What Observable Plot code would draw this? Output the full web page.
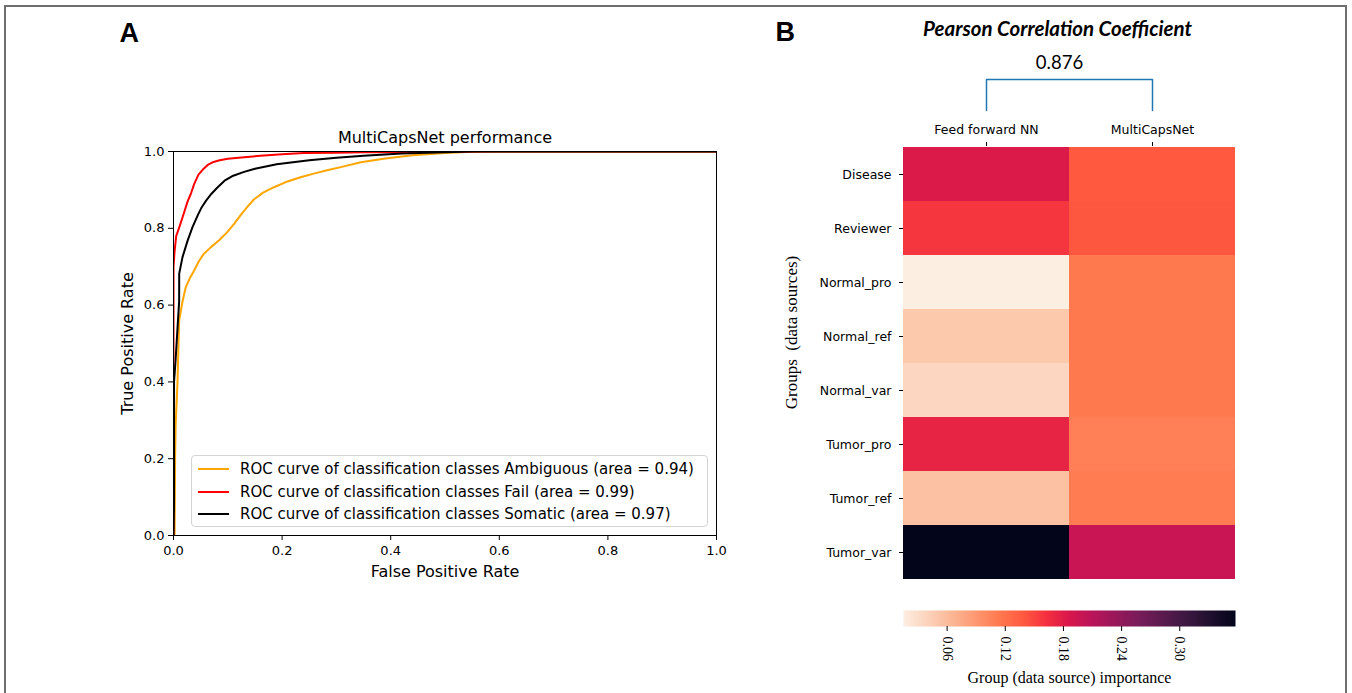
<!DOCTYPE html>
<html>
<head>
<meta charset="utf-8">
<script src="https://cdn.jsdelivr.net/npm/d3@7"></script>
<script src="https://cdn.jsdelivr.net/npm/@observablehq/plot@0.6"></script>
<style>
  body { margin: 0; background: #fff; }
  #root { position: relative; width: 1352px; height: 693px; overflow: hidden; background: #fff; }
  #border { position: absolute; left: 4px; top: 5px; width: 1343px; height: 720px; border: 2px solid #6e6e6e; box-sizing: border-box; }
  .panel { position: absolute; }
  .panel svg { overflow: visible; }
  #legend { position: absolute; left: 191px; top: 455px; width: 517px; height: 72px; box-sizing: border-box;
            border: 1px solid #d4d4d4; border-radius: 4px; background: rgba(255,255,255,0.85);
            font-family: "DejaVu Sans"; font-size: 15px; color: #000; }
  .lg-row { position: absolute; left: 0; height: 20px; display: flex; align-items: center; white-space: nowrap; }
  .lg-row svg { margin-left: 6px; margin-right: 11px; }
</style>
</head>
<body>
<div id="root">
  <div id="border"></div>
  <div class="panel" id="roc" style="left:0;top:0"></div>
  <div id="legend"></div>
  <div class="panel" id="heat" style="left:760px;top:0"></div>
  <div class="panel" id="dendro" style="left:760px;top:0"></div>
  <div class="panel" id="cbar" style="left:760px;top:590px"></div>
</div>
<script>
// ---------- Panel A: ROC data ----------
const classNames = ["Ambiguous", "Fail", "Somatic"];
const aucValues = [0.94, 0.99, 0.97];
const classColors = ["#ffa500", "#ff0000", "#000000"];
const rocTicks = [0, 0.2, 0.4, 0.6, 0.8, 1.0];

const ambiguousFpr = [0, 0.002, 0.003, 0.004, 0.0074, 0.0104, 0.0166, 0.0227, 0.03, 0.038, 0.047, 0.056, 0.069, 0.085, 0.099, 0.112, 0.124, 0.136, 0.148, 0.165, 0.185, 0.21, 0.234, 0.26, 0.283, 0.31, 0.345, 0.39, 0.44, 0.5, 0.56, 1.0];
const ambiguousTpr = [0, 0.0, 0.21, 0.29, 0.40, 0.56, 0.61, 0.647, 0.67, 0.69, 0.715, 0.734, 0.751, 0.77, 0.79, 0.812, 0.835, 0.856, 0.875, 0.893, 0.907, 0.922, 0.933, 0.943, 0.951, 0.96, 0.972, 0.982, 0.99, 0.996, 1.0, 1.0];

const failFpr = [0, 0, 0.002, 0.005, 0.01, 0.017, 0.026, 0.032, 0.038, 0.046, 0.054, 0.063, 0.072, 0.085, 0.1, 0.13, 0.16, 0.2, 0.24, 0.3, 0.35, 0.45, 0.6, 1.0];
const failTpr = [0, 0.70, 0.74, 0.78, 0.80, 0.83, 0.87, 0.89, 0.915, 0.94, 0.953, 0.965, 0.972, 0.977, 0.981, 0.985, 0.989, 0.993, 0.996, 0.997, 0.998, 0.999, 1.0, 1.0];

const somaticFpr = [0, 0.001, 0.001, 0.004, 0.0074, 0.0104, 0.0105, 0.0166, 0.026, 0.035, 0.045, 0.052, 0.06, 0.07, 0.08, 0.094, 0.11, 0.13, 0.15, 0.19, 0.25, 0.3, 0.35, 0.42, 0.5, 0.55, 1.0];
const somaticTpr = [0, 0.09, 0.40, 0.46, 0.54, 0.61, 0.682, 0.725, 0.768, 0.803, 0.835, 0.855, 0.872, 0.89, 0.905, 0.924, 0.937, 0.947, 0.955, 0.967, 0.977, 0.984, 0.989, 0.995, 0.998, 1.0, 1.0];

// ---------- Panel B: heatmap data ----------
const groups = ["Disease", "Reviewer", "Normal_pro", "Normal_ref", "Normal_var", "Tumor_pro", "Tumor_ref", "Tumor_var"];
const models = ["Feed forward NN", "MultiCapsNet"];
const ffnnImportance = [0.183, 0.159, 0.015, 0.049, 0.037, 0.173, 0.056, 0.3575];
const multiCapsImportance = [0.138, 0.14, 0.114, 0.114, 0.114, 0.109, 0.111, 0.198];
const colorbarTicks = [0.06, 0.12, 0.18, 0.24, 0.30];
const pearsonR = 0.876;
// reversed "rocket"-like palette as it appears in the figure
const paletteStops = [0, 0.143, 0.286, 0.36, 0.43, 0.5, 0.571, 0.714, 0.857, 1];
const paletteColors = ["#fdeee2", "#fbb896", "#ff7a50", "#ff5a40", "#f5303f", "#d8164c", "#b8145a", "#761c5a", "#3a1840", "#03051a"];

// ---------- build tables ----------
const rocSeries = [[ambiguousFpr, ambiguousTpr], [failFpr, failTpr], [somaticFpr, somaticTpr]];
const rocData = [];
classNames.forEach((c, i) => {
  const [f, t] = rocSeries[i];
  f.forEach((v, j) => rocData.push({cls: c, fpr: v, tpr: t[j]}));
});

const cells = [];
groups.forEach((g, i) => {
  cells.push({group: g, model: models[0], v: ffnnImportance[i]});
  cells.push({group: g, model: models[1], v: multiCapsImportance[i]});
});
const colorDomain = d3.extent(cells, d => d.v);
const paletteScale = d3.scaleLinear().domain(paletteStops).range(paletteColors).interpolate(d3.interpolateRgb);
const colorOpts = () => ({type: "linear", domain: colorDomain, interpolate: t => paletteScale(t)});

// ---------- Panel A plot ----------
const roc = Plot.plot({
  width: 760, height: 600,
  marginLeft: 173, marginTop: 151, marginRight: 44, marginBottom: 65,
  style: {fontFamily: "DejaVu Sans", fontSize: "13px", color: "#000", background: "transparent"},
  x: {domain: [0, 1]},
  y: {domain: [0, 1]},
  color: {domain: classNames, range: classColors},
  marks: [
    Plot.line(rocData, {x: "fpr", y: "tpr", z: "cls", stroke: "cls", strokeWidth: 2, clip: true}),
    Plot.frame({stroke: "#000", strokeWidth: 1}),
    Plot.axisX({ticks: rocTicks, tickFormat: d3.format(".1f"), tickSize: 5, tickPadding: 5, label: null, fontSize: 13}),
    Plot.axisY({ticks: rocTicks, tickFormat: d3.format(".1f"), tickSize: 5, tickPadding: 4, label: null, fontSize: 13}),
    Plot.text(["MultiCapsNet performance"], {text: d => d, frameAnchor: "top", lineAnchor: "bottom", dy: -9, fontSize: 16}),
    Plot.text(["False Positive Rate"], {text: d => d, frameAnchor: "bottom", lineAnchor: "bottom", dy: 41, fontSize: 16}),
    Plot.text(["True Positive Rate"], {text: d => d, frameAnchor: "left", textAnchor: "middle", lineAnchor: "bottom", rotate: -90, dx: -41, fontSize: 16}),
    Plot.text(["A"], {text: d => d, frameAnchor: "top-left", textAnchor: "start", lineAnchor: "bottom", dx: -54, dy: -110, fontSize: 27, fontWeight: "bold", fontFamily: "Liberation Sans"})
  ]
});
document.getElementById("roc").append(roc);

// legend (HTML)
const legend = document.getElementById("legend");
classNames.forEach((c, i) => {
  const row = document.createElement("div");
  row.className = "lg-row";
  row.style.top = (3 + i * 22.5) + "px";
  row.innerHTML = `<svg width="31" height="4"><line x1="0" y1="2" x2="31" y2="2" stroke="${classColors[i]}" stroke-width="2"/></svg><span>ROC curve of classification classes ${c} (area = ${aucValues[i].toFixed(2)})</span>`;
  legend.append(row);
});

// ---------- Panel B heatmap ----------
const heat = Plot.plot({
  width: 592, height: 600,
  marginLeft: 143, marginRight: 117, marginTop: 145, marginBottom: 19,
  style: {fontFamily: "DejaVu Sans", fontSize: "12px", color: "#000", background: "transparent"},
  x: {domain: models, padding: 0},
  y: {domain: groups, padding: 0},
  color: colorOpts(),
  marks: [
    Plot.cell(cells, {x: "model", y: "group", fill: "v", inset: 0}),
    Plot.axisX({anchor: "top", tickSize: 4, tickPadding: 8, label: null, fontSize: 12.5}),
    Plot.axisY({anchor: "left", tickSize: 4, tickPadding: 8, label: null, fontSize: 12.5}),
    Plot.text(["Groups  (data sources)"], {text: d => d, frameAnchor: "left", textAnchor: "middle", lineAnchor: "bottom", rotate: -90, dx: -107, dy: -31, fontSize: 17, fontFamily: "Liberation Serif"}),
    Plot.text(["B"], {text: d => d, frameAnchor: "top-left", textAnchor: "start", lineAnchor: "bottom", dx: -128, dy: -104.3, fontSize: 27, fontWeight: "bold", fontFamily: "Liberation Sans"})
  ]
});
document.getElementById("heat").append(heat);

// ---------- dendrogram ----------
const mergeDist = 1 - pearsonR;
const dendroPath = [
  {model: models[0], h: 0}, {model: models[0], h: mergeDist},
  {model: models[1], h: mergeDist}, {model: models[1], h: 0}
];
const dendro = Plot.plot({
  width: 592, height: 115,
  marginLeft: 143, marginRight: 117, marginTop: 79, marginBottom: 5,
  style: {fontFamily: "Lato", color: "#000", background: "transparent"},
  x: {type: "point", domain: models, padding: 0.5, axis: null},
  y: {domain: [0, mergeDist], axis: null},
  marks: [
    Plot.line(dendroPath, {x: "model", y: "h", stroke: "#1f77b4", strokeWidth: 1.5}),
    Plot.text([pearsonR], {text: d => d.toFixed(3), frameAnchor: "top", lineAnchor: "bottom", dx: -10, dy: -11, fontSize: 18.5, fontFamily: "Lato"}),
    Plot.text(["Pearson Correlation Coefficient"], {text: d => d, frameAnchor: "top", lineAnchor: "bottom", dx: -12, dy: -43.3, fontSize: 20.5, fontWeight: "bold", fontStyle: "italic", fontFamily: "Lato"})
  ]
});
document.getElementById("dendro").append(dendro);

// ---------- colorbar ----------
const cbar = Plot.plot({
  width: 592, height: 100,
  marginLeft: 143, marginRight: 117, marginTop: 20, marginBottom: 64,
  style: {fontFamily: "Liberation Serif", fontSize: "14px", color: "#000", background: "transparent"},
  x: {domain: colorDomain},
  y: {domain: [0, 1], axis: null},
  color: colorOpts(),
  marks: [
    Plot.raster({x1: colorDomain[0], x2: colorDomain[1], y1: 0, y2: 1, width: 332, height: 1, fill: (x, y) => x, imageRendering: "auto"}),
    Plot.axisX({ticks: colorbarTicks, tickFormat: d3.format(".2f"), tickSize: 5, tickPadding: 5, tickRotate: 90, label: null, fontSize: 14}),
    Plot.text(["Group (data source) importance"], {text: d => d, frameAnchor: "bottom", lineAnchor: "bottom", dy: 56.7, fontSize: 16})
  ]
});
document.getElementById("cbar").append(cbar);
</script>
</body>
</html>
